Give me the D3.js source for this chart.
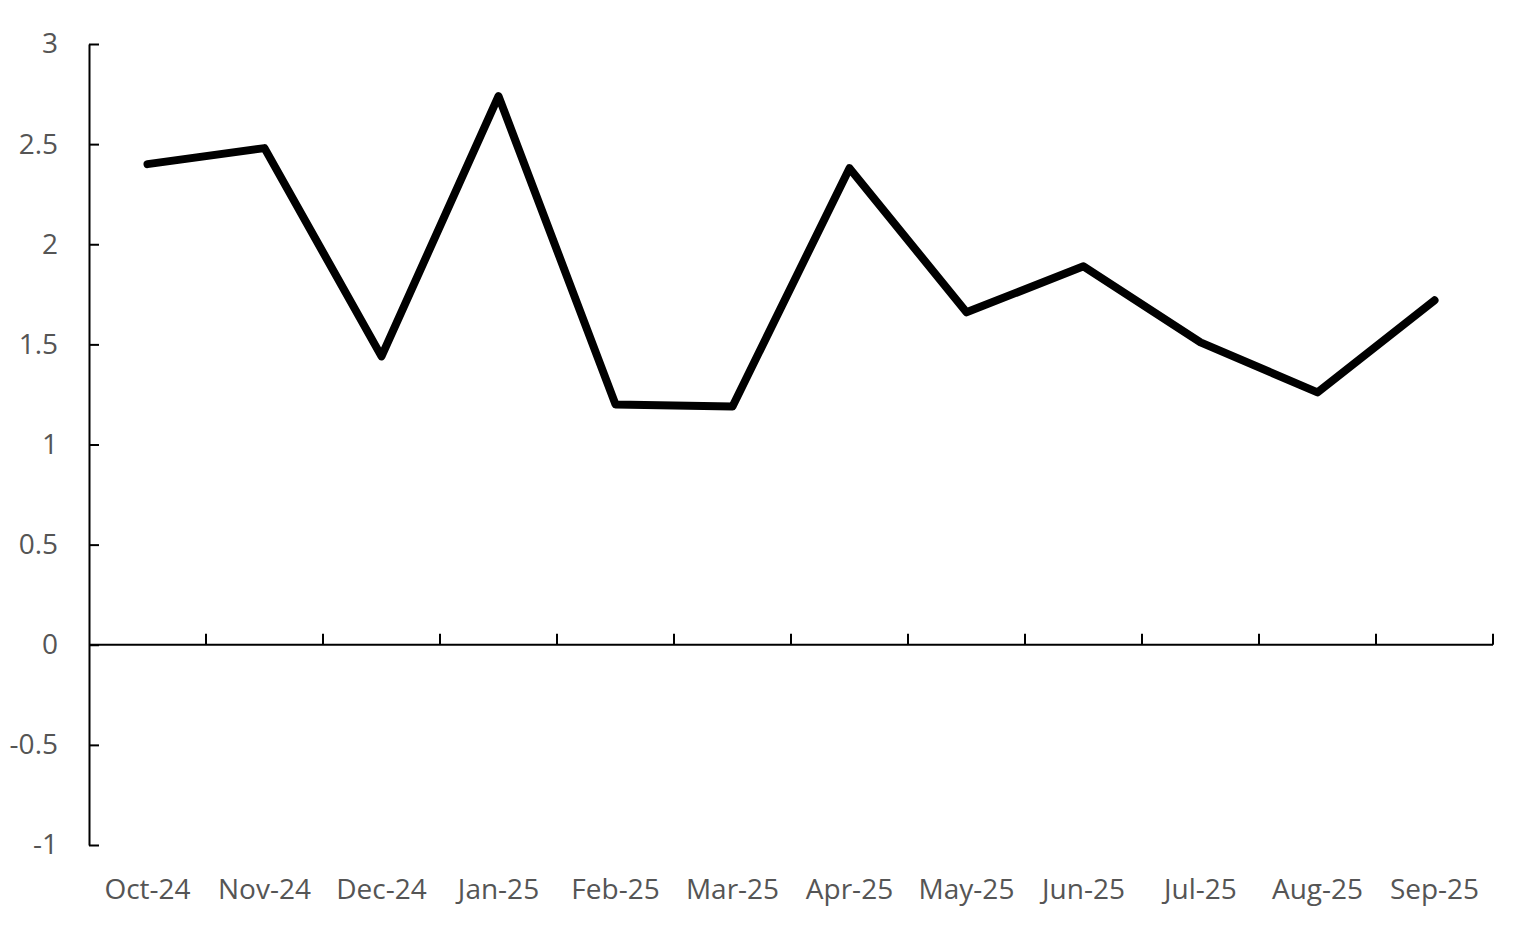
<!DOCTYPE html>
<html>
<head>
<meta charset="utf-8">
<script src="https://cdn.jsdelivr.net/npm/d3@7"></script>
<style>
  body { margin: 0; background: #fff; }
  .axis text { font-family: "Open Sans", sans-serif; font-size: 28px; fill: #555; }
  .axis line, .axis path { stroke: #000; stroke-width: 2; }
</style>
</head>
<body>
<div id="chart"></div>
<script>
const months = ['Oct-24', 'Nov-24', 'Dec-24', 'Jan-25', 'Feb-25', 'Mar-25',
                'Apr-25', 'May-25', 'Jun-25', 'Jul-25', 'Aug-25', 'Sep-25'];
const values = [2.40, 2.48, 1.44, 2.74, 1.20, 1.19, 2.38, 1.66, 1.89, 1.51, 1.26, 1.72];
const yTicks = [-1, -0.5, 0, 0.5, 1, 1.5, 2, 2.5, 3];

const width = 1536, height = 931;
const margin = { top: 44, right: 43, bottom: 86, left: 89 };
const innerW = width - margin.left - margin.right;
const innerH = height - margin.top - margin.bottom;

const svg = d3.select('#chart').append('svg')
    .attr('width', width)
    .attr('height', height);

const chart = svg.append('g')
    .attr('transform', `translate(${margin.left},${margin.top})`);

const xScale = d3.scaleBand()
    .domain(months)
    .range([0, innerW]);

const yScale = d3.scaleLinear()
    .domain([-1, 3])
    .range([innerH, 0]);

// y axis, ticks pointing into the plot
const yAxis = d3.axisRight(yScale)
    .tickValues(yTicks)
    .tickFormat(d => String(d))
    .tickSize(10)
    .tickSizeOuter(0);

const yAxisGroup = chart.append('g')
    .attr('class', 'axis y-axis')
    .call(yAxis);

yAxisGroup.selectAll('text')
    .attr('x', -31)
    .style('text-anchor', 'end');

// x axis sits at zero, ticks on band edges pointing up
const zeroY = yScale(0);
const xAxisGroup = chart.append('g')
    .attr('class', 'axis x-axis');

xAxisGroup.append('line')
    .attr('x1', 0)
    .attr('x2', innerW)
    .attr('y1', zeroY)
    .attr('y2', zeroY);

xAxisGroup.selectAll('.edge-tick')
    .data(months)
    .join('line')
    .attr('class', 'edge-tick')
    .attr('x1', d => xScale(d) + xScale.bandwidth())
    .attr('x2', d => xScale(d) + xScale.bandwidth())
    .attr('y1', zeroY)
    .attr('y2', zeroY - 11);

// month labels along the bottom
xAxisGroup.selectAll('.month')
    .data(months)
    .join('text')
    .attr('class', 'month')
    .attr('x', d => xScale(d) + xScale.bandwidth() / 2)
    .attr('y', innerH + 54)
    .attr('text-anchor', 'middle')
    .text(d => d);

const line = d3.line()
    .x((d, i) => xScale(months[i]) + xScale.bandwidth() / 2)
    .y(d => yScale(d));

chart.append('path')
    .datum(values)
    .attr('fill', 'none')
    .attr('stroke', '#000')
    .attr('stroke-width', 8)
    .attr('stroke-linejoin', 'round')
    .attr('stroke-linecap', 'round')
    .attr('d', line);
</script>
</body>
</html>
